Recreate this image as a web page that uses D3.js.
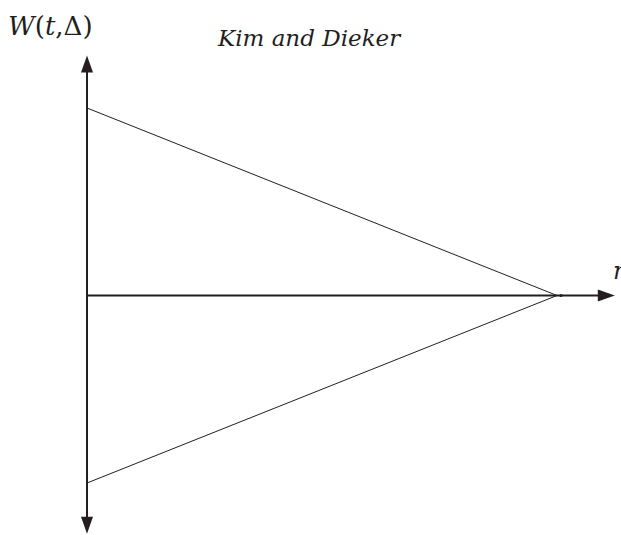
<!DOCTYPE html>
<html>
<head>
<meta charset="utf-8">
<script src="https://cdn.jsdelivr.net/npm/d3@7"></script>
<style>
  html, body { margin: 0; padding: 0; background: #fff; }
  svg { display: block; }
</style>
</head>
<body>
<svg id="chart" width="621" height="535"></svg>
<script>
// Schematic of W(t, Δ): two envelopes that close linearly to zero at n
const nodes = [0, 1];          // t = 0 and t = n (axis units)
const upperBound = [1, 0];     // +W at start, 0 at n
const lowerBound = [-1, 0];    // -W at start, 0 at n
const axisExtent = { xMax: 1.123, yMax: 1.28, yMin: -1.27 };
const title = "Kim and Dieker";
const xLabel = "n";

const serif = "'DejaVu Serif', serif";
const svg = d3.select("#chart");
const ink = "#231f20";

const x = d3.scaleLinear().domain([0, 1]).range([87, 557]);
const y = d3.scaleLinear().domain([-1, 1]).range([483, 108]);

// arrowhead as a filled triangle pointing along (dx, dy)
function arrowHead(tipX, tipY, dx, dy) {
  const len = 17, half = 6;
  const bx = tipX - dx * len, by = tipY - dy * len;
  const px = -dy * half, py = dx * half;
  return `M${tipX},${tipY}L${bx + px},${by + py}L${bx - px},${by - py}Z`;
}

// vertical axis (both directions)
svg.append("line")
  .attr("x1", x(0)).attr("x2", x(0))
  .attr("y1", y(axisExtent.yMax) + 10).attr("y2", y(axisExtent.yMin) - 10)
  .attr("stroke", ink).attr("stroke-width", 2);
svg.append("path").attr("d", arrowHead(x(0), y(axisExtent.yMax), 0, -1)).attr("fill", ink);
svg.append("path").attr("d", arrowHead(x(0), y(axisExtent.yMin), 0, 1)).attr("fill", ink);

// horizontal axis
svg.append("line")
  .attr("x1", x(0)).attr("x2", x(axisExtent.xMax) - 10)
  .attr("y1", y(0)).attr("y2", y(0))
  .attr("stroke", ink).attr("stroke-width", 2);
svg.append("path").attr("d", arrowHead(x(axisExtent.xMax), y(0), 1, 0)).attr("fill", ink);

// envelopes
const line = d3.line().x(d => x(d[0])).y(d => y(d[1]));
[upperBound, lowerBound].forEach(vals => {
  svg.append("path")
    .datum(nodes.map((t, i) => [t, vals[i]]))
    .attr("d", line)
    .attr("fill", "none")
    .attr("stroke", ink)
    .attr("stroke-width", 1);
});
// small mark where the envelopes meet the axis
svg.append("circle").attr("cx", x(1) + 4).attr("cy", y(0)).attr("r", 1.6).attr("fill", ink);

// y label W(t, Δ)
const yl = svg.append("text").attr("x", 8).attr("y", 35)
  .style("font-family", serif).style("font-size", "26px").attr("fill", ink);
yl.append("tspan").style("font-style", "italic").text("W");
yl.append("tspan").text("(");
yl.append("tspan").style("font-style", "italic").text("t");
yl.append("tspan").text(",Δ)");

// title
svg.append("text").attr("x", 218).attr("y", 46)
  .style("font-family", serif).style("font-size", "23px").style("font-style", "italic")
  .attr("fill", ink).text(title);

// x label, partly past the right edge
svg.append("text").attr("x", 613).attr("y", 279)
  .style("font-family", serif).style("font-size", "24px").style("font-style", "italic")
  .attr("fill", ink).text(xLabel);
</script>
</body>
</html>
